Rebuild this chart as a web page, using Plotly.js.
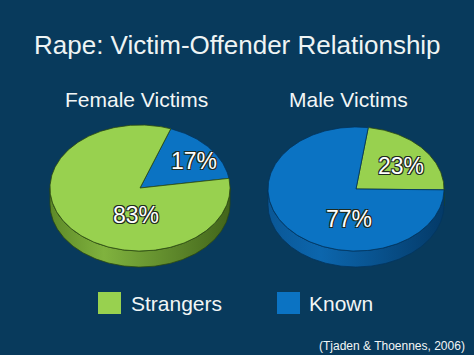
<!DOCTYPE html>
<html>
<head>
<meta charset="utf-8">
<script src="https://cdn.plot.ly/plotly-3.0.1.min.js"></script>
<style>
html,body{margin:0;padding:0;background:#083a5c;}
#chart{width:474px;height:355px;}
</style>
</head>
<body>
<div id="chart"></div>
<script>
// ---- data ----
const categories = ['Strangers', 'Known'];
const femaleValues = [83, 17];
const maleValues = [23, 77];
const groupTitles = ['Female Victims', 'Male Victims'];
const chartTitle = 'Rape: Victim-Offender Relationship';
const sourceText = '(Tjaden &amp; Thoennes, 2006)';

// ---- style ----
const FONT = 'Liberation Sans, Arial, Helvetica, sans-serif';
const BG = '#083a5c';
const topColors = {Strangers: '#98d14f', Known: '#0b73c3'};
const sideScales = {
  Strangers: [[0, '#5e8a28'], [0.3, '#80b23e'], [1, '#42651b']],
  Known: [[0, '#0a5796'], [0.3, '#0c66ad'], [1, '#043a68']]
};
const edgeColors = {Strangers: '#2c4a10', Known: '#03355e'};

// geometry of each pie (pixel space), drawing order and label placement
const pies = [
  {values: femaleValues, cx: 140, cy: 188, rx: 90, ry: 63, depth: 16, start: 70, order: [1, 0],
   labelPos: {Known: [36, 0.74], Strangers: [-96, 0.43]}, titleX: 136, titleY: 99},
  {values: maleValues, cx: 356, cy: 189, rx: 88, ry: 62, depth: 16, start: 82, order: [0, 1],
   labelPos: {Strangers: [36, 0.63], Known: [-99, 0.49]}, titleX: 348, titleY: 99}
];

const rad = d => d * Math.PI / 180;
const sideTraces = [];
const topTraces = [];
const annotations = [];

pies.forEach((p, pi) => {
  const total = p.values.reduce((a, b) => a + b, 0);
  let t = p.start;
  p.order.forEach(ci => {
    const name = categories[ci];
    const v = p.values[ci];
    const span = v / total * 360;
    const t1 = t, t2 = t - span;
    t = t2;
    // top face
    const xs = [p.cx], ys = [p.cy];
    const n = Math.max(2, Math.ceil(span));
    for (let k = 0; k <= n; k++) {
      const a = rad(t1 - span * k / n);
      xs.push(p.cx + p.rx * Math.cos(a));
      ys.push(p.cy - p.ry * Math.sin(a));
    }
    xs.push(p.cx); ys.push(p.cy);
    topTraces.push({
      type: 'scatter', mode: 'lines', x: xs, y: ys, fill: 'toself',
      fillcolor: topColors[name], line: {color: edgeColors[name], width: 0.8},
      name: name, hoverinfo: 'name', showlegend: false
    });
    // side walls (front half: angles where sin < 0)
    for (let k = -2; k <= 1; k++) {
      const lower = -180 + 360 * k, upper = 360 * k;
      const hi = Math.min(t1, upper), lo = Math.max(t2, lower);
      if (hi > lo) {
        const sx = [], sy = [];
        const m = Math.max(2, Math.ceil(hi - lo));
        for (let j = 0; j <= m; j++) {
          const a = rad(hi - (hi - lo) * j / m);
          sx.push(p.cx + p.rx * Math.cos(a));
          sy.push(p.cy - p.ry * Math.sin(a));
        }
        for (let j = m; j >= 0; j--) {
          const a = rad(hi - (hi - lo) * j / m);
          sx.push(p.cx + p.rx * Math.cos(a));
          sy.push(p.cy - p.ry * Math.sin(a) + p.depth);
        }
        sx.push(sx[0]); sy.push(sy[0]);
        sideTraces.push({
          type: 'scatter', mode: 'lines', x: sx, y: sy, fill: 'toself',
          fillgradient: {type: 'horizontal', colorscale: sideScales[name]},
          fillcolor: topColors[name],
          line: {color: edgeColors[name], width: 0.8},
          name: name, hoverinfo: 'skip', showlegend: false
        });
      }
    }
    // label
    const lp = p.labelPos[name];
    annotations.push({
      xref: 'x', yref: 'y',
      x: p.cx + p.rx * lp[1] * Math.cos(rad(lp[0])),
      y: p.cy - p.ry * lp[1] * Math.sin(rad(lp[0])),
      text: v + '%', showarrow: false,
      font: {family: FONT, size: 23, color: '#ffffff',
             shadow: '1px 1px 0 #1e2a1e, -1px -1px 0 #1e2a1e, 1px -1px 0 #1e2a1e, -1px 1px 0 #1e2a1e'}
    });
  });
  annotations.push({
    xref: 'x', yref: 'y', x: p.titleX, y: p.titleY,
    text: groupTitles[pi], showarrow: false,
    font: {family: FONT, size: 21, color: '#f2f6f6'}
  });
});

// legend (squares + text)
const legendItems = [
  {name: categories[0], x0: 98, textX: 129},
  {name: categories[1], x0: 277, textX: 307}
];
const shapes = [];
legendItems.forEach(li => {
  shapes.push({type: 'rect', xref: 'x', yref: 'y', x0: li.x0, x1: li.x0 + 23, y0: 292, y1: 314,
               fillcolor: topColors[li.name], line: {width: 0}});
  annotations.push({xref: 'x', yref: 'y', x: li.textX, y: 303, xanchor: 'left',
                    text: li.name, showarrow: false,
                    font: {family: FONT, size: 21, color: '#f2f6f6'}});
});
annotations.push({xref: 'x', yref: 'y', x: 467, y: 346, xanchor: 'right',
                  text: sourceText, showarrow: false,
                  font: {family: FONT, size: 12, color: '#f2f6f6'}});
annotations.push({xref: 'x', yref: 'y', x: 237, y: 45,
                  text: chartTitle, showarrow: false,
                  font: {family: FONT, size: 26, color: '#eef4f4'}});

const layout = {
  width: 474, height: 355,
  margin: {l: 0, r: 0, t: 0, b: 0},
  paper_bgcolor: BG, plot_bgcolor: BG,
  xaxis: {range: [0, 474], visible: false, fixedrange: true},
  yaxis: {range: [355, 0], visible: false, fixedrange: true},
  showlegend: false,
  annotations: annotations,
  shapes: shapes
};

Plotly.newPlot('chart', sideTraces.concat(topTraces), layout, {displayModeBar: false, staticPlot: true});
</script>
</body>
</html>
